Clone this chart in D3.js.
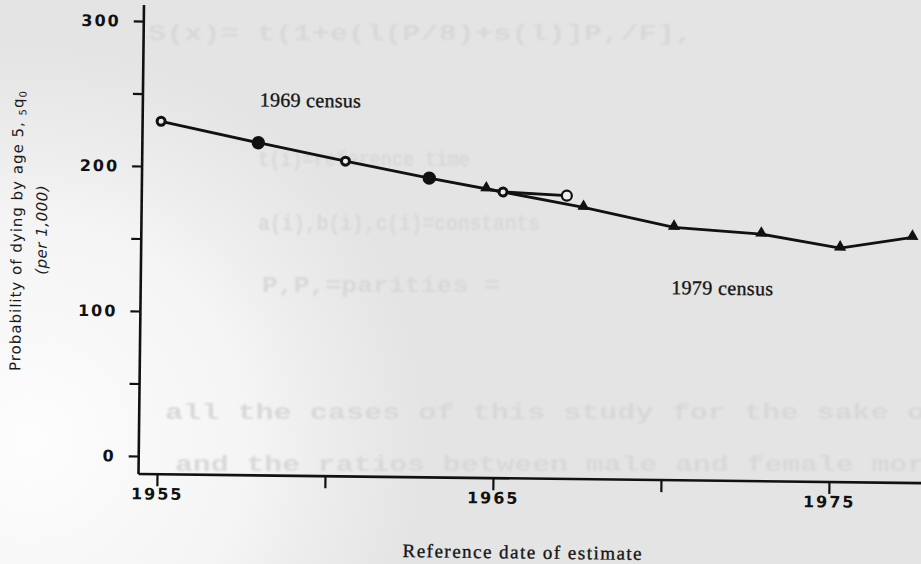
<!DOCTYPE html>
<html lang="en">
<head>
    <meta charset="UTF-8">
    <title>Probability of dying by age 5</title>
    <script src="https://d3js.org/d3.v7.min.js"></script>
    <style>
        body {
            margin: 0;
            background: #e5e5e5;
        }
        svg {
            display: block;
        }
        .axis path, .axis line {
            stroke: #111;
            stroke-width: 2.6;
            fill: none;
        }
        .axis .tick line {
            stroke-width: 2.2;
        }
        .axis text {
            font-family: "DejaVu Sans", sans-serif;
            font-weight: bold;
            font-size: 16px;
            letter-spacing: 2px;
            fill: #111;
        }
        .ghost {
            font-family: "Liberation Mono", monospace;
            font-weight: bold;
            font-size: 22px;
            fill: #d8d8d8;
        }
        .serif {
            font-family: "Liberation Serif", serif;
            fill: #151515;
            stroke: #151515;
            stroke-width: 0.35;
        }
        .ytitle {
            font-family: "DejaVu Sans", sans-serif;
            font-size: 15px;
            fill: #1a1a1a;
        }
    </style>
</head>
<body>
<script>
    var width = 921;
    var height = 564;

    // 1969 census estimates (circles)
    var years69 = [1955.0, 1957.9, 1960.5, 1963.0, 1965.2, 1967.1];
    var q69 = [231, 217, 205, 194, 185, 183];
    var open69 = [true, false, true, false, true, true];

    // 1979 census estimates (triangles)
    var years79 = [1964.7, 1967.6, 1970.3, 1972.9, 1975.25, 1977.4];
    var q79 = [187, 175, 162, 158, 149, 157];

    var yTicks = [0, 50, 100, 150, 200, 250, 300];
    var yLabels = [0, 100, 200, 300];
    var xTicks = [1955, 1960, 1965, 1970, 1975];
    var xLabels = [1955, 1965, 1975];

    // faint show-through from the other side of the page
    var ghostLines = [
        "S(x)= t(1+e(l(P/8)+s(l)]P,/F],",
        "t(i)=reference time",
        "a(i),b(i),c(i)=constants",
        "P,P,=parities =",
        "all the cases of this study for the sake o",
        "and the ratios between male and female mor"
    ];

    // the scan is slightly rotated
    var corner = [138.5, 474];
    var tilt = 0.67;

    var x = d3.scaleLinear().domain([1955, 1975]).range([157, 829]);
    var y = d3.scaleLinear().domain([0, 300]).range([456, 21]);

    var svg = d3.select("body").append("svg")
            .attr("width", width)
            .attr("height", height);

    var defs = svg.append("defs");
    var glow = defs.append("radialGradient")
            .attr("id", "paper")
            .attr("gradientUnits", "userSpaceOnUse")
            .attr("cx", 30).attr("cy", 440).attr("r", 400);
    glow.append("stop").attr("offset", "0%").attr("stop-color", "#fdfdfd").attr("stop-opacity", 1);
    glow.append("stop").attr("offset", "55%").attr("stop-color", "#fafafa").attr("stop-opacity", 0.75);
    glow.append("stop").attr("offset", "100%").attr("stop-color", "#f5f5f5").attr("stop-opacity", 0);

    defs.append("filter").attr("id", "soft")
            .append("feGaussianBlur").attr("stdDeviation", 0.9);

    svg.append("rect").attr("width", width).attr("height", height).attr("fill", "#e4e4e4");
    svg.append("rect").attr("width", width).attr("height", height).attr("fill", "url(#paper)");

    var ghostPos = [[148, 40, 545], [258, 166, 212], [258, 230, 282], [262, 292, 238], [165, 419, 760], [175, 471, 750]];
    svg.append("g")
            .attr("filter", "url(#soft)")
            .selectAll("text")
            .data(ghostLines)
            .enter()
            .append("text")
            .attr("class", "ghost")
            .attr("x", function (d, i) { return ghostPos[i][0]; })
            .attr("y", function (d, i) { return ghostPos[i][1]; })
            .attr("textLength", function (d, i) { return ghostPos[i][2]; })
            .attr("lengthAdjust", "spacingAndGlyphs")
            .text(function (d) { return d; });

    var plot = svg.append("g")
            .attr("transform", "rotate(" + tilt + "," + corner[0] + "," + corner[1] + ")");

    var gx = plot.append("g")
            .attr("class", "axis")
            .attr("transform", "translate(0," + corner[1] + ")")
            .call(d3.axisBottom(x)
                    .tickValues(xTicks)
                    .tickSize(12)
                    .tickPadding(2)
                    .tickFormat(function (d) { return xLabels.indexOf(d) >= 0 ? d : ""; }));
    gx.select(".domain").attr("d", "M" + corner[0] + ",0H" + (width + 20));

    var gy = plot.append("g")
            .attr("class", "axis")
            .attr("transform", "translate(" + corner[0] + ",0)")
            .call(d3.axisLeft(y)
                    .tickValues(yTicks)
                    .tickSize(10)
                    .tickPadding(13)
                    .tickFormat(function (d) { return yLabels.indexOf(d) >= 0 ? d : ""; }));
    gy.select(".domain").attr("d", "M0,5V" + corner[1]);

    var data69 = years69.map(function (yr, i) {
        return {year: yr, q: q69[i], open: open69[i]};
    });
    var data79 = years79.map(function (yr, i) {
        return {year: yr, q: q79[i]};
    });

    var line = d3.line()
            .x(function (d) { return x(d.year); })
            .y(function (d) { return y(d.q); });

    plot.append("path")
            .datum(data79)
            .attr("d", line)
            .attr("fill", "none")
            .attr("stroke", "#111")
            .attr("stroke-width", 2.8);
    plot.append("path")
            .datum(data69)
            .attr("d", line)
            .attr("fill", "none")
            .attr("stroke", "#111")
            .attr("stroke-width", 2.8);

    plot.selectAll(".c69")
            .data(data69)
            .enter()
            .append("circle")
            .attr("class", "c69")
            .attr("cx", function (d) { return x(d.year); })
            .attr("cy", function (d) { return y(d.q); })
            .attr("r", function (d, i) { return i === data69.length - 1 ? 5 : (d.open ? 4 : 5.2); })
            .attr("fill", function (d) { return d.open ? "#eeeeee" : "#111"; })
            .attr("stroke", "#111")
            .attr("stroke-width", function (d, i) { return i === data69.length - 1 ? 2.2 : 3; });

    plot.selectAll(".t79")
            .data(data79)
            .enter()
            .append("path")
            .attr("class", "t79")
            .attr("d", d3.symbol().type(d3.symbolTriangle).size(64))
            .attr("transform", function (d) {
                return "translate(" + x(d.year) + "," + (y(d.q) - 1) + ")";
            })
            .attr("fill", "#111");

    plot.append("text")
            .attr("class", "serif")
            .attr("x", 306).attr("y", 105)
            .attr("text-anchor", "middle")
            .attr("font-size", 20)
            .attr("textLength", 101)
            .text("1969 census");

    plot.append("text")
            .attr("class", "serif")
            .attr("x", 720).attr("y", 288)
            .attr("text-anchor", "middle")
            .attr("font-size", 20)
            .attr("textLength", 102)
            .text("1979 census");

    plot.append("text")
            .attr("class", "serif")
            .attr("x", 523).attr("y", 554)
            .attr("text-anchor", "middle")
            .attr("font-size", 19)
            .attr("textLength", 239)
            .text("Reference date of estimate");

    var yt = plot.append("text")
            .attr("class", "ytitle")
            .attr("transform", "translate(19,232) rotate(-90)")
            .attr("text-anchor", "middle")
            .style("letter-spacing", "1px");
    yt.append("tspan").text("Probability of dying by age 5, ");
    yt.append("tspan").attr("font-size", 10).attr("dy", 3).text("5");
    yt.append("tspan").attr("dy", -3).text("q");
    yt.append("tspan").attr("font-size", 10).attr("dy", 3).text("0");

    plot.append("text")
            .attr("class", "ytitle")
            .attr("transform", "translate(44,231) rotate(-90)")
            .attr("text-anchor", "middle")
            .attr("font-style", "italic")
            .style("letter-spacing", "0.5px")
            .text("(per 1,000)");
</script>
</body>
</html>
